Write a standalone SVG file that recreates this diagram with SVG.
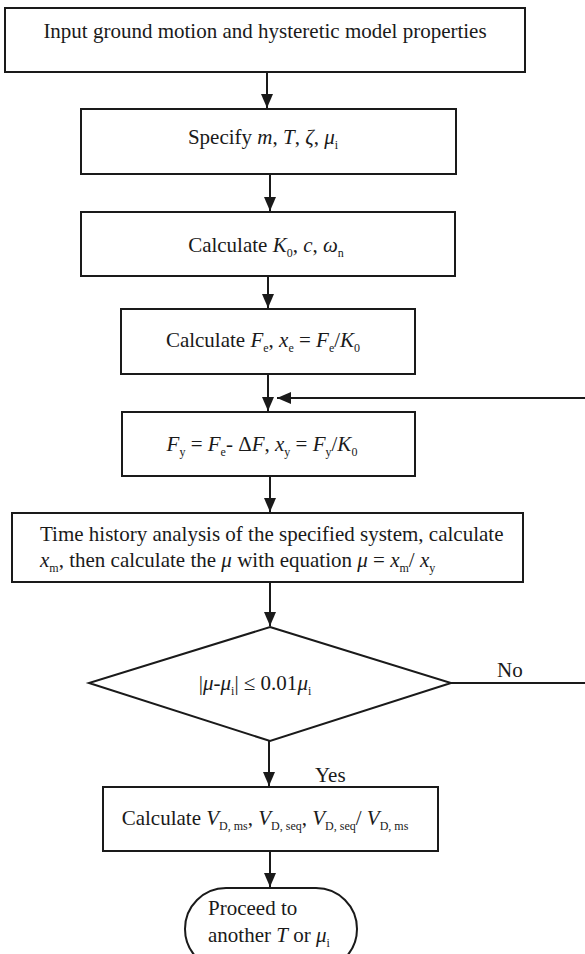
<svg xmlns="http://www.w3.org/2000/svg" width="585" height="954" viewBox="0 0 585 954">
  <style>
    .box { fill: #fff; stroke: #1a1a1a; stroke-width: 2; }
    .ln { fill: none; stroke: #1a1a1a; stroke-width: 2; }
    text { font-family: "Liberation Serif", "Times New Roman", serif; font-size: 21px; fill: #1a1a1a; }
    .c { text-anchor: middle; }
    .it { font-style: italic; }
    .sb { font-size: 12px; baseline-shift: -5px; }
  </style>
  <defs>
    <marker id="ah" viewBox="0 0 14 12" refX="14" refY="6" markerWidth="14" markerHeight="12" markerUnits="userSpaceOnUse" orient="auto">
      <path d="M0,0 L14,6 L0,12 Z" fill="#1a1a1a"/>
    </marker>
  </defs>

  <g id="connectors">
    <line class="ln" x1="267" y1="72" x2="267" y2="108" marker-end="url(#ah)"/>
    <line class="ln" x1="270" y1="174" x2="270" y2="211" marker-end="url(#ah)"/>
    <line class="ln" x1="268" y1="276" x2="268" y2="308" marker-end="url(#ah)"/>
    <line class="ln" x1="268" y1="374" x2="268" y2="411" marker-end="url(#ah)"/>
    <line class="ln" x1="585" y1="398" x2="277" y2="398" marker-end="url(#ah)"/>
    <line class="ln" x1="270" y1="476" x2="270" y2="512" marker-end="url(#ah)"/>
    <line class="ln" x1="270" y1="582" x2="270" y2="626" marker-end="url(#ah)"/>
    <line class="ln" x1="451" y1="683" x2="585" y2="683"/>
    <line class="ln" x1="269" y1="741" x2="269" y2="786" marker-end="url(#ah)"/>
    <line class="ln" x1="270" y1="851" x2="270" y2="887" marker-end="url(#ah)"/>
    <text x="497" y="677">No</text>
    <text x="315" y="782">Yes</text>
  </g>

  <g id="input">
    <rect class="box" x="5" y="8" width="520" height="64"/>
    <text class="c" x="265" y="38">Input ground motion and hysteretic model properties</text>
  </g>

  <g id="specify">
    <rect class="box" x="81" y="109" width="375" height="65"/>
    <text class="c" x="263" y="144">Specify <tspan class="it">m</tspan>, <tspan class="it">T</tspan>, <tspan class="it">ζ</tspan>, <tspan class="it">μ</tspan><tspan class="sb">i</tspan></text>
  </g>

  <g id="calc-k0">
    <rect class="box" x="81" y="212" width="374" height="64"/>
    <text class="c" x="266" y="252">Calculate <tspan class="it">K</tspan><tspan class="sb">0</tspan>, <tspan class="it">c</tspan>, <tspan class="it">ω</tspan><tspan class="sb">n</tspan></text>
  </g>

  <g id="calc-fe">
    <rect class="box" x="121" y="309" width="294" height="65"/>
    <text class="c" x="263" y="347">Calculate <tspan class="it">F</tspan><tspan class="sb">e</tspan>, <tspan class="it">x</tspan><tspan class="sb">e</tspan> = <tspan class="it">F</tspan><tspan class="sb">e</tspan>/<tspan class="it">K</tspan><tspan class="sb">0</tspan></text>
  </g>

  <g id="yield">
    <rect class="box" x="122" y="412" width="293" height="64"/>
    <text class="c" x="262" y="451"><tspan class="it">F</tspan><tspan class="sb">y</tspan> = <tspan class="it">F</tspan><tspan class="sb">e</tspan>- Δ<tspan class="it">F</tspan>, <tspan class="it">x</tspan><tspan class="sb">y</tspan> = <tspan class="it">F</tspan><tspan class="sb">y</tspan>/<tspan class="it">K</tspan><tspan class="sb">0</tspan></text>
  </g>

  <g id="analysis">
    <rect class="box" x="12" y="513" width="511" height="69"/>
    <text x="40" y="541">Time history analysis of the specified system, calculate</text>
    <text x="40" y="567"><tspan class="it">x</tspan><tspan class="sb">m</tspan>, then calculate the <tspan class="it">μ</tspan> with equation <tspan class="it">μ</tspan> = <tspan class="it">x</tspan><tspan class="sb">m</tspan>/ <tspan class="it">x</tspan><tspan class="sb">y</tspan></text>
  </g>

  <g id="check">
    <polygon class="box" points="270,627 451,683 270,741 89,683"/>
    <text class="c" x="255" y="690">|<tspan class="it">μ</tspan>-<tspan class="it">μ</tspan><tspan class="sb">i</tspan>| ≤ 0.01<tspan class="it">μ</tspan><tspan class="sb">i</tspan></text>
  </g>

  <g id="calc-vd">
    <rect class="box" x="103" y="787" width="335" height="64"/>
    <text class="c" x="265" y="825">Calculate <tspan class="it">V</tspan><tspan class="sb">D, ms</tspan>, <tspan class="it">V</tspan><tspan class="sb">D, seq</tspan>, <tspan class="it">V</tspan><tspan class="sb">D, seq</tspan>/ <tspan class="it">V</tspan><tspan class="sb">D, ms</tspan></text>
  </g>

  <g id="proceed">
    <rect class="box" x="185" y="888" width="172" height="82" rx="41" ry="41"/>
    <text x="208" y="915">Proceed to</text>
    <text x="208" y="942">another <tspan class="it">T</tspan> or <tspan class="it">μ</tspan><tspan class="sb">i</tspan></text>
  </g>
</svg>
